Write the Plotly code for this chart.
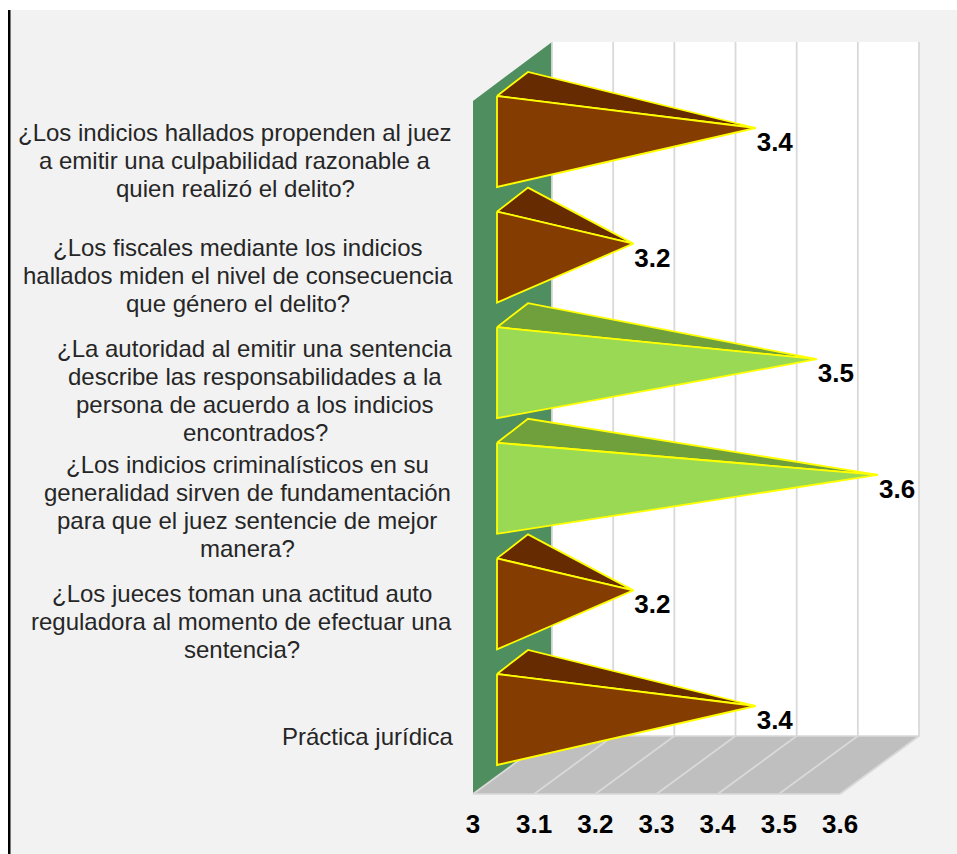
import plotly.graph_objects as go

# ---- data ----
category_lines = [
    ["¿Los indicios hallados propenden al juez", "a emitir una culpabilidad razonable a", "quien realizó el delito?"],
    ["¿Los fiscales mediante los indicios", "hallados miden el nivel de consecuencia", "que género el delito?"],
    ["¿La autoridad al emitir una sentencia", "describe las responsabilidades a la", "persona de acuerdo a los indicios", "encontrados?"],
    ["¿Los indicios criminalísticos en su", "generalidad sirven de fundamentación", "para que el juez sentencie de mejor", "manera?"],
    ["¿Los jueces toman una actitud auto", "reguladora al momento de efectuar una", "sentencia?"],
    ["Práctica jurídica"],
]
values = [3.4, 3.2, 3.5, 3.6, 3.2, 3.4]
front_colors = ["#843C00", "#843C00", "#99D954", "#99D954", "#843C00", "#843C00"]
top_colors = ["#662B00", "#662B00", "#70A03C", "#70A03C", "#662B00", "#662B00"]
tick_values = [3, 3.1, 3.2, 3.3, 3.4, 3.5, 3.6]
tick_labels = ["3", "3.1", "3.2", "3.3", "3.4", "3.5", "3.6"]

# ---- geometry of the oblique projection (pixels) ----
W, H = 957, 854
PLOT_H = 806
PX_PER_UNIT = 611.7
PX_PER_CAT = 115.6
X0_PX, Y0_PX = 473, 128          # value 3 on the front floor edge, first category tip row
FIRST_X = 3 - X0_PX / PX_PER_UNIT
LAST_X = 3 + (W - X0_PX) / PX_PER_UNIT
Y_TOP = -Y0_PX / PX_PER_CAT
Y_BOT = (PLOT_H - Y0_PX) / PX_PER_CAT
DEPTH = 79                       # wall depth in x
WALL_TOP, WALL_BACK_BOTTOM, WALL_FRONT_BOTTOM, WALL_FRONT_TOP = 42, 736, 794, 101


def dx(value, px=0):
    return value + px / PX_PER_UNIT


def py(px):
    return (px - Y0_PX) / PX_PER_CAT


def poly_path(points):
    return "M" + " L".join(f"{x},{y}" for x, y in points) + " Z"


xmin, xmax = min(tick_values), max(tick_values)
shapes = [
    # page furniture
    dict(type="rect", xref="paper", yref="paper", x0=0, x1=1, y0=1, y1=1 - 10 / PLOT_H,
         fillcolor="white", line_width=0, layer="below"),
    dict(type="rect", xref="paper", yref="paper", x0=0, x1=8 / W, y0=-(H - PLOT_H) / PLOT_H, y1=1,
         fillcolor="white", line_width=0, layer="below"),
    dict(type="rect", xref="paper", yref="paper", x0=8 / W, x1=10.5 / W, y0=-(H - PLOT_H) / PLOT_H, y1=1 - 10 / PLOT_H,
         fillcolor="black", line_width=0, layer="below"),
    # back wall
    dict(type="rect", xref="x", yref="y", x0=dx(xmin, DEPTH), x1=dx(xmax, DEPTH),
         y0=py(WALL_TOP), y1=py(WALL_BACK_BOTTOM), fillcolor="white", line_width=0, layer="below"),
    # side wall
    dict(type="path", xref="x", yref="y", layer="below", line_width=0, fillcolor="#4F8E5F",
         path=poly_path([(dx(xmin), py(WALL_FRONT_TOP)), (dx(xmin, DEPTH), py(WALL_TOP)),
                         (dx(xmin, DEPTH), py(WALL_BACK_BOTTOM)), (dx(xmin), py(WALL_FRONT_BOTTOM))])),
    # floor
    dict(type="path", xref="x", yref="y", layer="below", line_width=0, fillcolor="#BFBFBF",
         path=poly_path([(dx(xmin), py(WALL_FRONT_BOTTOM)), (dx(xmin, DEPTH), py(WALL_BACK_BOTTOM)),
                         (dx(xmax, DEPTH), py(WALL_BACK_BOTTOM)), (dx(xmax), py(WALL_FRONT_BOTTOM))])),
]

fig = go.Figure()

# gridlines on back wall and floor, following the value axis
for i, t in enumerate(tick_values):
    fig.add_trace(go.Scatter(
        x=[dx(t, DEPTH), dx(t, DEPTH), dx(t)],
        y=[py(WALL_TOP), py(WALL_BACK_BOTTOM), py(WALL_FRONT_BOTTOM)],
        mode="lines", line=dict(color="#D9D9D9", width=1.8), hoverinfo="skip"))
fig.add_trace(go.Scatter(
    x=[dx(xmin, DEPTH), dx(xmax, DEPTH), None, dx(xmin), dx(xmax)],
    y=[py(WALL_BACK_BOTTOM), py(WALL_BACK_BOTTOM), None, py(WALL_FRONT_BOTTOM), py(WALL_FRONT_BOTTOM)],
    mode="lines", line=dict(color="#D9D9D9", width=1.5), hoverinfo="skip"))

# pyramids
BASE_FRONT, BASE_BACK, TIP_SHIFT = 24, 55, 38
for i, v in enumerate(values):
    tip = (dx(v, TIP_SHIFT), i)
    ft = (dx(xmin, BASE_FRONT), i - 32 / PX_PER_CAT)
    fb = (dx(xmin, BASE_FRONT), i + 59 / PX_PER_CAT)
    bt = (dx(xmin, BASE_BACK), i - 56 / PX_PER_CAT)
    top = [ft, bt, tip, ft]
    front = [ft, fb, tip, ft]
    fig.add_trace(go.Scatter(
        x=[p[0] for p in top], y=[p[1] for p in top], mode="lines", fill="toself",
        fillcolor=top_colors[i], line=dict(color="#FFFF00", width=1.8), hoverinfo="skip"))
    fig.add_trace(go.Scatter(
        x=[p[0] for p in front], y=[p[1] for p in front], mode="lines", fill="toself",
        fillcolor=front_colors[i], line=dict(color="#FFFF00", width=1.8), hoverinfo="skip"))

# data labels
fig.add_trace(go.Scatter(
    x=[dx(v, TIP_SHIFT + 1) for v in values],
    y=[i + 16.5 / PX_PER_CAT for i in range(len(values))],
    mode="text", text=[f"{v:.1f}" for v in values], textposition="middle right",
    textfont=dict(family="Liberation Sans", size=26, color="black", weight="bold"),
    hoverinfo="skip"))

# category labels, one line at a time on a 28 px pitch
label_centers = [235, 237.5, 255, 247, 241.5, 367]
label_rows = [160, 275, 390, 506, 621, 736]
annotations = []
for lines, cx, cy in zip(category_lines, label_centers, label_rows):
    for j, line in enumerate(lines):
        annotations.append(dict(
            text=line, xref="x", yref="y", x=dx(3, cx - X0_PX), y=py(cy + (j - (len(lines) - 1) / 2) * 28),
            xanchor="center", yanchor="middle", showarrow=False,
            font=dict(family="Liberation Sans", size=24, color="#262626")))

fig.update_layout(
    width=W, height=H, margin=dict(l=0, r=0, t=0, b=H - PLOT_H, pad=0),
    paper_bgcolor="#F2F2F2", plot_bgcolor="rgba(0,0,0,0)", showlegend=False,
    shapes=shapes, annotations=annotations,
    xaxis=dict(range=[FIRST_X, LAST_X], tickmode="array", tickvals=tick_values, ticktext=tick_labels,
               showgrid=False, zeroline=False, showline=False, ticks="",
               tickfont=dict(family="Liberation Sans", size=26, color="black", weight="bold")),
    yaxis=dict(range=[Y_BOT, Y_TOP], visible=False),
)

fig.write_html("out.html", config=dict(displayModeBar=False),
               post_script="document.body.style.margin='0';document.body.style.overflow='hidden';")
